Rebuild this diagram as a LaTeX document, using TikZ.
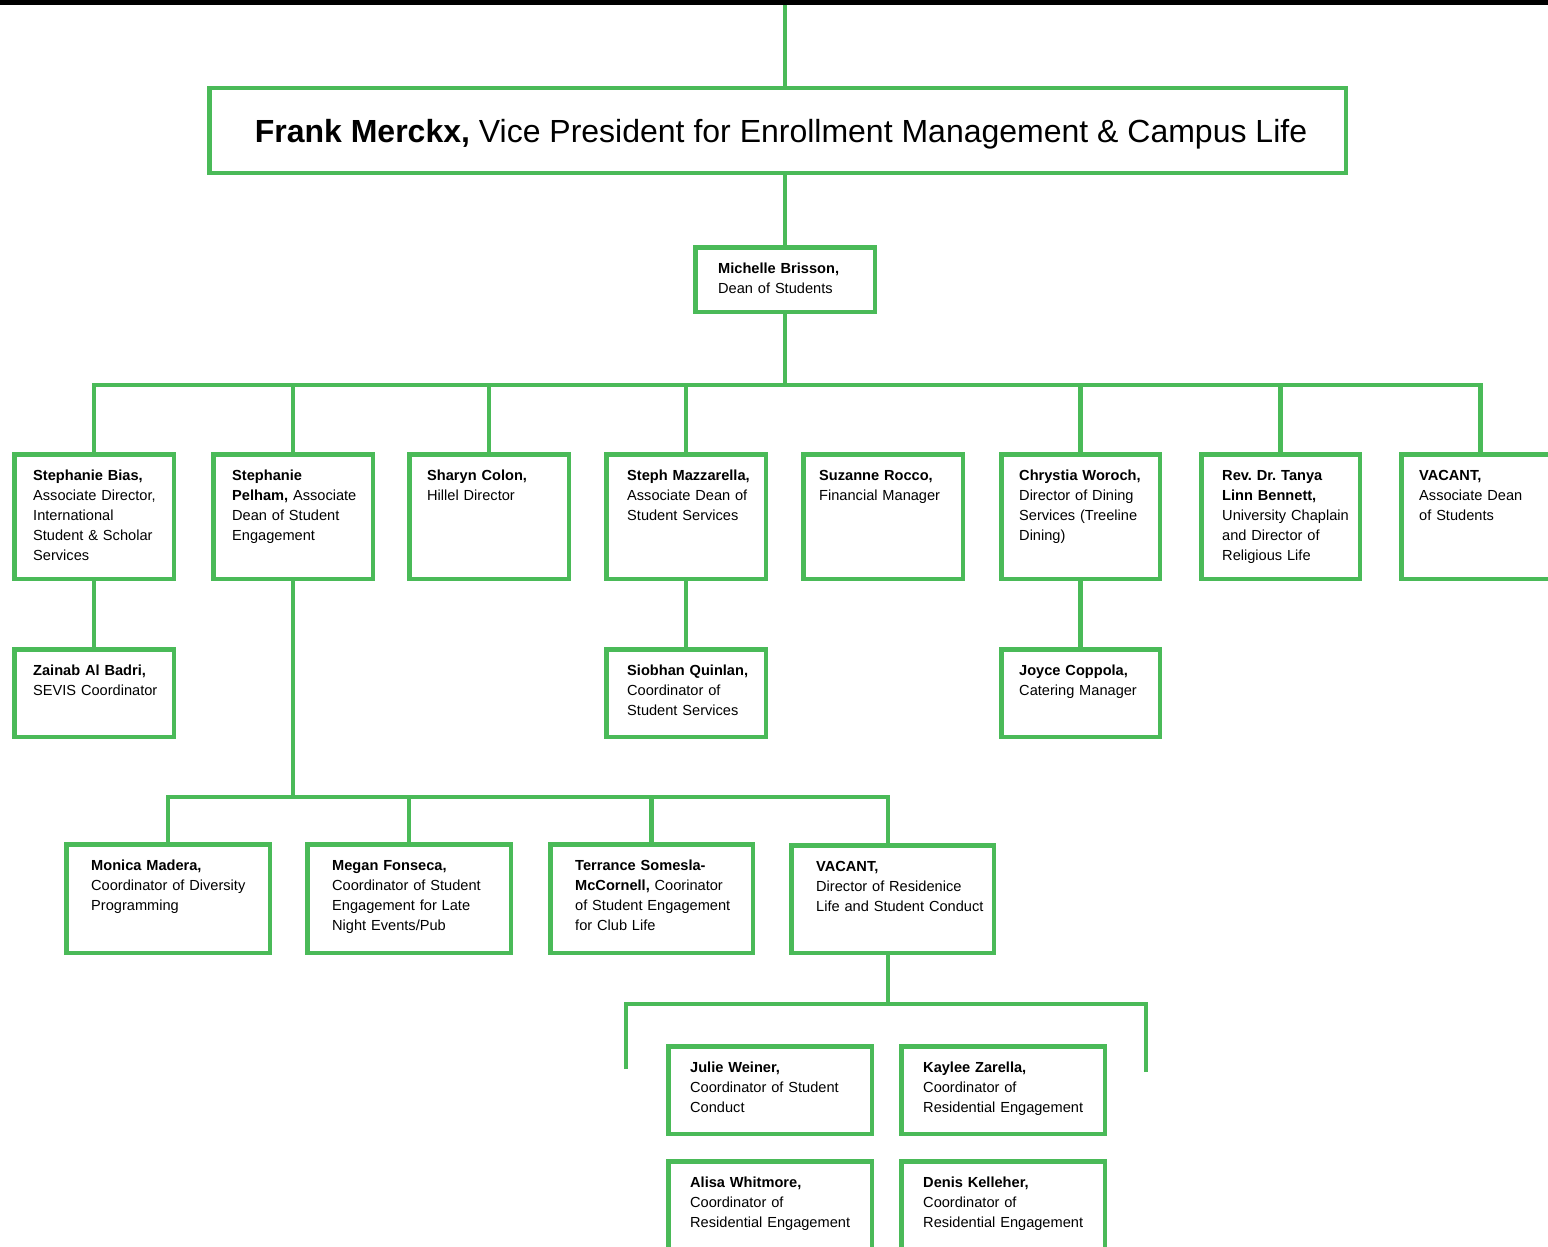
\documentclass[tikz,border=0pt]{standalone}
\usepackage{fontspec}
\setmainfont{Liberation Sans}
\frenchspacing
\definecolor{orggreen}{RGB}{74,186,88}
\tikzset{
  obox/.style={draw=orggreen, line width=4.5pt, fill=white, inner sep=0pt, rectangle},
  otext/.style={inner sep=0pt, text width=260pt, align=left, anchor=base west,
    font=\fontsize{14.6}{20}\selectfont, text=black},
  link/.style={draw=orggreen, line width=4.5pt}
}
% name, x1, y1, x2, y2, text-x, text
\newcommand\orgbox[7]{%
  \node[obox, minimum width={#4-#2-4.5}, minimum height={#5-#3-4.5}] (#1) at ({(#2+#4)/2},{(#3+#5)/2}) {};
  \node[otext] (#1-t) at ({#6},{#3+28}) {#7};
}
\begin{document}
\begin{tikzpicture}[x=1pt,y=-1pt]
\path[use as bounding box, clip] (0,0) rectangle (1548,1247);
\fill[white] (0,0) rectangle (1548,1247);
\fill[black] (0,0) rectangle (1548,5);
\coordinate (top) at (785,5);

% title
\node[obox, minimum width={1348-207-4.5}, minimum height={175-86-4.5}] (frank) at ({(207+1348)/2},{(86+175)/2}) {};
\node[inner sep=0pt, anchor=base, font=\fontsize{32}{38}\selectfont] (frank-t) at (781,142) {\textbf{Frank Merckx,} Vice President for Enrollment Management \& Campus Life};

\orgbox{mich}{693}{245}{877}{314}{718}{\textbf{Michelle Brisson,}\\Dean of Students}

% row 1
\orgbox{bias}{12}{452}{176}{581}{33}{\textbf{Stephanie Bias,}\\Associate Director,\\International\\Student \& Scholar\\Services}
\orgbox{pelham}{211}{452}{375}{581}{232}{\textbf{Stephanie}\\\textbf{Pelham,} Associate\\Dean of Student\\Engagement}
\orgbox{colon}{407}{452}{571}{581}{427}{\textbf{Sharyn Colon,}\\Hillel Director}
\orgbox{mazz}{604}{452}{768}{581}{627}{\textbf{Steph Mazzarella,}\\Associate Dean of\\Student Services}
\orgbox{rocco}{801}{452}{965}{581}{819}{\textbf{Suzanne Rocco,}\\Financial Manager}
\orgbox{woroch}{999}{452}{1162}{581}{1019}{\textbf{Chrystia Woroch,}\\Director of Dining\\Services (Treeline\\Dining)}
\orgbox{bennett}{1199}{452}{1362}{581}{1222}{\textbf{Rev. Dr. Tanya}\\\textbf{Linn Bennett,}\\University Chaplain\\and Director of\\Religious Life}
\orgbox{vacanta}{1399}{452}{1562}{581}{1419}{\textbf{VACANT,}\\Associate Dean\\of Students}

% row 2
\orgbox{zainab}{12}{647}{176}{739}{33}{\textbf{Zainab Al Badri,}\\SEVIS Coordinator}
\orgbox{siobhan}{604}{647}{768}{739}{627}{\textbf{Siobhan Quinlan,}\\Coordinator of\\Student Services}
\orgbox{joyce}{999}{647}{1162}{739}{1019}{\textbf{Joyce Coppola,}\\Catering Manager}

% row 3
\orgbox{monica}{64}{842}{272}{955}{91}{\textbf{Monica Madera,}\\Coordinator of Diversity\\Programming}
\orgbox{megan}{305}{842}{513}{955}{332}{\textbf{Megan Fonseca,}\\Coordinator of Student\\Engagement for Late\\Night Events/Pub}
\orgbox{terrance}{548}{842}{755}{955}{575}{\textbf{Terrance Somesla-}\\\textbf{McCornell,} Coorinator\\of Student Engagement\\for Club Life}
\orgbox{vacantb}{789}{843}{996}{955}{816}{\textbf{VACANT,}\\Director of Residenice\\Life and Student Conduct}

% rows 4-5
\orgbox{julie}{666}{1044}{874}{1136}{690}{\textbf{Julie Weiner,}\\Coordinator of Student\\Conduct}
\orgbox{kaylee}{899}{1044}{1107}{1136}{923}{\textbf{Kaylee Zarella,}\\Coordinator of\\Residential Engagement}
\orgbox{alisa}{666}{1159}{874}{1252}{690}{\textbf{Alisa Whitmore,}\\Coordinator of\\Residential Engagement}
\orgbox{denis}{899}{1159}{1107}{1252}{923}{\textbf{Denis Kelleher,}\\Coordinator of\\Residential Engagement}

% connectors
\coordinate (busa) at (mich.south |- 0,385);
\coordinate (busb) at (pelham.south |- 0,797);
\coordinate (vbtop) at ([xshift=-4.5pt]vacantb.north);
\coordinate (vbbot) at ([xshift=-4.5pt]vacantb.south);
\coordinate (busc) at (vbbot |- 0,1004);
\coordinate (lend) at (626,1069);
\coordinate (rend) at (1146,1072);

\draw[link] (top) -- (top |- frank.north);
\draw[link] (mich.north) -- (mich.north |- frank.south);
\draw[link] (mich.south) -- (busa);
\foreach \c in {bias,pelham,colon,mazz,woroch,bennett,vacanta}
  \draw[link] (\c.north) |- (busa);
\draw[link] (bias.south) -- (zainab.north);
\draw[link] (mazz.south) -- (siobhan.north);
\draw[link] (woroch.south) -- (joyce.north);
\draw[link] (pelham.south) -- (busb);
\foreach \c in {monica,megan,terrance}
  \draw[link] (\c.north) |- (busb);
\draw[link] (vbtop) |- (busb);
\draw[link] (vbbot) -- (busc);
\draw[link] (lend) |- (busc);
\draw[link] (rend) |- (busc);
\end{tikzpicture}
\end{document}
